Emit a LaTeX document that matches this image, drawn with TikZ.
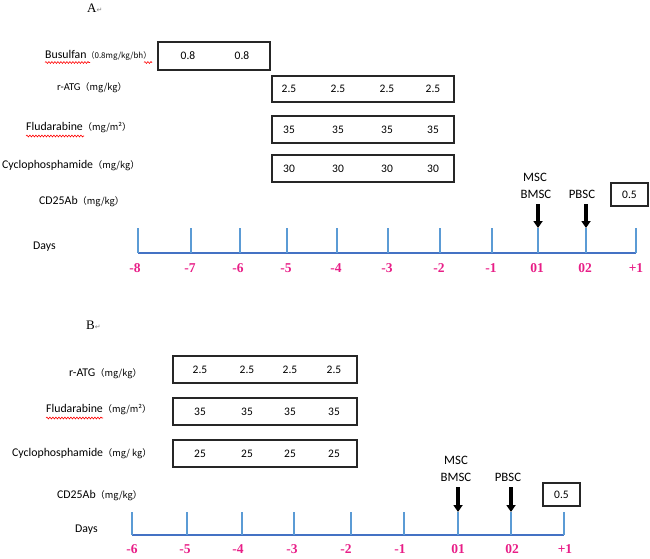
\documentclass[tikz,border=0pt]{standalone}
\usepackage{fontspec}
\setmainfont{Carlito}
\newfontfamily\cjk{Noto Sans CJK SC}
\newfontfamily\tms{Liberation Serif}
\newfontfamily\dejavu{DejaVu Sans}
\usetikzlibrary{arrows.meta,decorations.pathmorphing}
\definecolor{axisblue}{RGB}{68,114,196}
\definecolor{tickblue}{RGB}{91,155,213}
\definecolor{daypink}{RGB}{232,30,135}
\newcommand{\unitt}[1]{{\cjk\fontsize{9.2}{10}\selectfont #1}}
\newcommand{\unittsmall}[1]{{\cjk\fontsize{8}{9}\selectfont #1}}
\newcommand{\pmark}{{\dejavu\fontsize{7}{8}\selectfont\color{gray}↵}}
\begin{document}
\begin{tikzpicture}[x=1pt,y=-1pt,
  lbl/.style={anchor=west,inner sep=0pt,font=\fontsize{11.8}{13}\selectfont},
  val/.style={inner sep=0pt,font=\fontsize{11.5}{13}\selectfont},
  dbox/.style={draw=black!85,line width=1.3pt,inner sep=0pt},
  axisline/.style={draw=axisblue,line width=2.6pt},
  tickline/.style={draw=tickblue,line width=1.2pt},
  day/.style={inner sep=0pt,text=daypink,font=\tms\bfseries\fontsize{13.5}{15}\selectfont},
  cell/.style={inner sep=0pt,font=\fontsize{12.8}{14}\selectfont},
  bigarrow/.style={line width=3.4pt,-{Triangle[width=9pt,length=7pt]}},
  wavy/.style={draw=red,line width=0.6pt,decorate,decoration={snake,amplitude=0.9pt,segment length=3pt}},
  panel/.style={anchor=west,inner sep=0pt,font=\tms\fontsize{13}{15}\selectfont}]
\useasboundingbox (0,0) rectangle (650,558);

%================ Panel A ================
\node[panel] (tA) at (87,8) {A\pmark};

\node[lbl] (busA) at (45,55) {Busulfan\unittsmall{（0.8mg/kg/bh）}};
\node[lbl,font=\fontsize{10.5}{12}\selectfont] (atgA) at (57,88) {r-ATG\unitt{（mg/kg）}};
\node[lbl] (fluA) at (26,128) {Fludarabine\unitt{（mg/m²）}};
\node[lbl] (cycA) at (2,166) {Cyclophosphamide\unitt{（mg/kg）}};
\node[lbl] (cdA) at (39,202) {CD25Ab\unitt{（mg/kg）}};
\node[lbl] (daysA) at (33,247) {Days};

\draw[wavy] (45,62.5) -- (90,62.5);
\draw[wavy] (144,62.5) -- (152,62.5);
\draw[wavy] (26,136) -- (84,136);

\node[dbox,minimum width=112pt,minimum height=28pt] (bxBusA) at (214,56) {};
\node[val] (busA1) at (188,56) {0.8};
\node[val] (busA2) at (242,56) {0.8};

\node[dbox,minimum width=182pt,minimum height=26pt] (bxAtgA) at (363,89) {};
\node[dbox,minimum width=182pt,minimum height=27pt] (bxFluA) at (363,129.5) {};
\node[dbox,minimum width=182pt,minimum height=27pt] (bxCycA) at (363,168.5) {};
\foreach \x [count=\i] in {289,338,387,433}{
  \node[val] (atgA\i) at (\x,89) {2.5};
  \node[val] (fluA\i) at (\x,129.5) {35};
  \node[val] (cycA\i) at (\x,168.5) {30};
}

% axis A
\coordinate (axA0) at (138,253);
\coordinate (axA1) at (636,253);
\draw[axisline] (axA0) -- (axA1);
\foreach \x/\d/\lx [count=\i] in {138/-8/135,191/-7/190,240/-6/238,287/-5/286,337/-4/336,388/-3/387,440/-2/439,492/-1/491,538/01/537,586/02/585,636/+1/636}{
  \coordinate (tA\i top) at (\x,228);
  \coordinate (tA\i bot) at (\x,253);
  \draw[tickline] (tA\i top) -- (tA\i bot);
  \node[day] (dA\i) at (\lx,268) {\d};
}

\node[cell] (mscA) at (535,177) {MSC};
\node[cell] (bmscA) at (536,194) {BMSC};
\node[cell] (pbscA) at (582,194) {PBSC};
\coordinate (arA1) at (538,204);
\coordinate (arA2) at (586,204);
\draw[bigarrow] (arA1) -- (tA9top);
\draw[bigarrow] (arA2) -- (tA10top);
\node[dbox,line width=1.1pt,minimum width=37pt,minimum height=23pt,font=\fontsize{11.5}{13}\selectfont] (cdboxA) at (629.5,194.5) {0.5};

%================ Panel B ================
\node[panel] (tB) at (86,325) {B\pmark};

\node[lbl] (atgB) at (69,374) {r-ATG\unitt{（mg/kg）}};
\node[lbl] (fluB) at (46,410) {Fludarabine\unitt{（mg/m²）}};
\node[lbl] (cycB) at (12,454) {Cyclophosphamide\unitt{（mg/ kg）}};
\node[lbl] (cdB) at (57,496) {CD25Ab\unitt{（mg/kg）}};
\node[lbl] (daysB) at (75,530) {Days};

\draw[wavy] (46,418) -- (103,418);

\node[dbox,minimum width=184pt,minimum height=27pt] (bxAtgB) at (265,369.5) {};
\node[dbox,minimum width=184pt,minimum height=27pt] (bxFluB) at (265,411.5) {};
\node[dbox,minimum width=184pt,minimum height=27pt] (bxCycB) at (265,453.5) {};
\foreach \x [count=\i] in {200,247,290,334}{
  \node[val] (atgB\i) at (\x,369.5) {2.5};
  \node[val] (fluB\i) at (\x,411.5) {35};
  \node[val] (cycB\i) at (\x,453.5) {25};
}

% axis B
\coordinate (axB0) at (132,535);
\coordinate (axB1) at (564,535);
\draw[axisline] (axB0) -- (axB1);
\foreach \x/\d/\lx [count=\i] in {132/-6/132,187/-5/185,242/-4/238,294/-3/292,351/-2/346,404/-1/400,458/01/458,511/02/512,564/+1/565}{
  \coordinate (tB\i top) at (\x,512);
  \coordinate (tB\i bot) at (\x,535);
  \draw[tickline] (tB\i top) -- (tB\i bot);
  \node[day] (dB\i) at (\lx,549) {\d};
}

\node[cell] (mscB) at (456,460) {MSC};
\node[cell] (bmscB) at (456,477) {BMSC};
\node[cell] (pbscB) at (508,477) {PBSC};
\coordinate (arB1) at (458,487);
\coordinate (arB2) at (511,487);
\draw[bigarrow] (arB1) -- (tB7top);
\draw[bigarrow] (arB2) -- (tB8top);
\node[dbox,line width=1.1pt,minimum width=37pt,minimum height=23pt,font=\fontsize{11.5}{13}\selectfont] (cdboxB) at (561.5,494.5) {0.5};
\end{tikzpicture}
\end{document}
